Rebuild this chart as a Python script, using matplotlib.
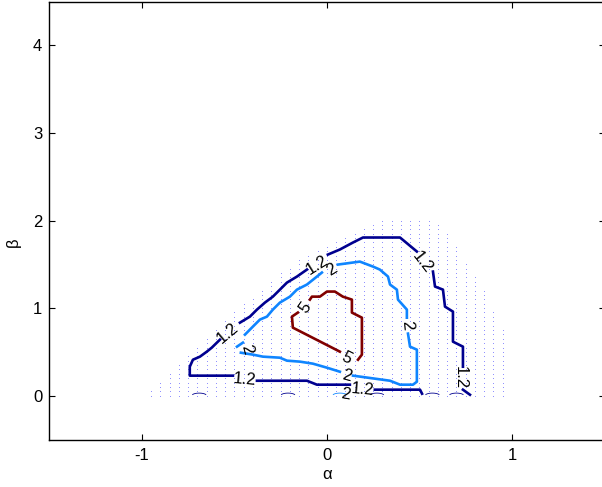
import numpy as np
import matplotlib
matplotlib.use("Agg")
import matplotlib.pyplot as plt

plt.rcParams["font.family"] = ["Liberation Sans", "DejaVu Sans"]
plt.rcParams["axes.unicode_minus"] = False

# feasible (alpha, beta) grid: one column every 0.05 in alpha, top beta of each column
alpha_cols = [-0.95, -0.90, -0.85, -0.80, -0.75, -0.70, -0.65, -0.60, -0.55, -0.50,
              -0.45, -0.40, -0.35, -0.30, -0.25, -0.20, -0.15, -0.10, -0.05, 0.00,
              0.05, 0.10, 0.15, 0.20, 0.25, 0.30, 0.35, 0.40, 0.45, 0.50,
              0.55, 0.60, 0.65, 0.70, 0.75, 0.80, 0.85, 0.90, 0.95]
beta_top = [0.05, 0.15, 0.25, 0.35, 0.45, 0.55, 0.65, 0.75, 0.85, 0.95,
            1.05, 1.10, 1.20, 1.30, 1.40, 1.45, 1.55, 1.60, 1.65, 1.70,
            1.75, 1.80, 1.85, 1.90, 1.95, 2.00, 2.00, 2.00, 2.00, 2.00,
            2.00, 1.95, 1.85, 1.70, 1.50, 1.35, 1.20, 0.95, 0.75]
grid_step = 0.05

# contour level 1.2 (pieces between the inline labels)
c12_a = [(0.514, 0.023), (0.503, 0.069), (0.259, 0.069)]
c12_b = [(0.124, 0.126), (-0.054, 0.126), (-0.108, 0.171), (-0.378, 0.171)]
c12_c = [(-0.508, 0.229), (-0.741, 0.229), (-0.741, 0.331), (-0.724, 0.411),
         (-0.686, 0.446), (-0.649, 0.503), (-0.622, 0.549), (-0.578, 0.640)]
c12_d = [(-0.470, 0.834), (-0.416, 0.903), (-0.378, 0.983), (-0.335, 1.063),
         (-0.292, 1.131), (-0.254, 1.211), (-0.216, 1.291), (-0.162, 1.360),
         (-0.108, 1.440)]
c12_e = [(0.005, 1.611), (0.070, 1.669), (0.141, 1.749), (0.195, 1.806),
         (0.395, 1.806), (0.486, 1.646)]
c12_f = [(0.573, 1.417), (0.584, 1.246), (0.627, 1.211), (0.638, 1.017),
         (0.681, 0.960), (0.681, 0.617), (0.735, 0.560), (0.735, 0.331)]
c12_g = [(0.735, 0.069), (0.773, 0.011)]

# contour level 2
c2_a = [(-0.443, 0.697), (-0.400, 0.789), (-0.362, 0.869), (-0.324, 0.903),
        (-0.292, 0.983), (-0.254, 1.063), (-0.200, 1.131), (-0.162, 1.211),
        (-0.108, 1.269), (-0.054, 1.360), (-0.027, 1.406)]
c2_b = [(0.059, 1.497), (0.178, 1.531), (0.249, 1.474), (0.286, 1.440),
        (0.330, 1.360), (0.341, 1.269), (0.378, 1.211), (0.384, 1.097),
        (0.432, 0.983), (0.432, 0.891)]
c2_c = [(0.438, 0.709), (0.449, 0.560), (0.486, 0.526), (0.486, 0.160),
        (0.465, 0.126), (0.395, 0.126), (0.341, 0.171), (0.141, 0.229)]
c2_d = [(0.070, 0.274), (0.000, 0.320), (-0.076, 0.366), (-0.146, 0.389),
        (-0.216, 0.400), (-0.254, 0.434), (-0.346, 0.446), (-0.400, 0.469),
        (-0.465, 0.491)]
c2_e = [(-0.486, 0.560), (-0.454, 0.606)]

# contour level 5
c5_a = [(-0.092, 1.097), (-0.081, 1.131), (-0.038, 1.131), (0.000, 1.189),
        (0.043, 1.189), (0.086, 1.131), (0.135, 1.097), (0.135, 0.949),
        (0.189, 0.891), (0.189, 0.469), (0.168, 0.411)]
c5_b = [(0.070, 0.503), (-0.184, 0.777), (-0.189, 0.903), (-0.157, 0.949)]

# tiny cut-off contours sitting on beta = 0
arc_alpha = [-0.69, -0.21, 0.07, 0.27, 0.57, 0.70]

# inline contour labels
label_text = ["1.2", "1.2", "1.2", "1.2", "1.2", "1.2",
              "2", "2", "2", "2", "2", "5", "5"]
label_alpha = [0.195, -0.443, -0.535, -0.054, 0.514, 0.719,
               0.027, 0.432, 0.108, -0.432, 0.098, -0.119, 0.108]
label_beta = [0.075, 0.183, 0.720, 1.497, 1.520, 0.210,
              1.440, 0.800, 0.230, 0.526, 0.010, 1.000, 0.434]
label_rot = [-5, -5, 40, 32, -52, -90,
             32, -85, -15, -75, -10, 55, -27]

x_ticks = [-1, 0, 1]
y_ticks = [0, 1, 2, 3, 4]

col12 = "#00008F"
col2 = "#0F85FF"
col5 = "#800000"

fig = plt.figure(figsize=(6.02, 4.87), dpi=100)
ax = fig.add_axes([0.0819, 0.0975, 0.9223, 0.8994])

# dotted grid of the admissible region
dx, dy = [], []
for a, top in zip(alpha_cols, beta_top):
    rows = np.arange(0, top + 1e-9, grid_step)
    dx.extend([a] * len(rows))
    dy.extend(rows)
ax.plot(dx, dy, linestyle="none", marker=".", markersize=1.3,
        markeredgewidth=0, color="#5050ff", alpha=0.6)

levels = {col12: [c12_a, c12_b, c12_c, c12_d, c12_e, c12_f, c12_g],
          col2: [c2_a, c2_b, c2_c, c2_d, c2_e],
          col5: [c5_a, c5_b]}
for col, segs in levels.items():
    for seg in segs:
        xs, ys = zip(*seg)
        ax.plot(xs, ys, color=col, lw=1.9, solid_joinstyle="round")

t = np.linspace(0.15 * np.pi, 0.85 * np.pi, 10)
for i, a in enumerate(arc_alpha):
    c = col2 if i == 2 else col12
    ax.plot(a + 0.04 * np.cos(t), 0.0 + 0.03 * np.sin(t), color=c, lw=0.6)

for s, a, b, r in zip(label_text, label_alpha, label_beta, label_rot):
    ax.text(a, b, s, rotation=r, rotation_mode="anchor", ha="center",
            va="center", fontsize=12, color="black")

ax.set_xlim(-1.5, 1.5)
ax.set_ylim(-0.5, 4.5)
ax.set_xticks(x_ticks)
ax.set_yticks(y_ticks)
ax.tick_params(direction="in", length=4, width=0.8, top=True, right=True,
               labelsize=12)
ax.tick_params(axis="x", pad=6)
ax.tick_params(axis="y", pad=5)
for sp in ax.spines.values():
    sp.set_linewidth(1.0)

ax.set_xlabel("\u03b1", fontsize=12)
ax.set_ylabel("\u03b2", fontsize=12)
ax.xaxis.set_label_coords(0.5, -0.079)
ax.yaxis.set_label_coords(-0.064, 0.45)
ax.xaxis.label.set_va("center")
ax.yaxis.label.set_va("center")

fig.savefig("out.png", dpi=100)
